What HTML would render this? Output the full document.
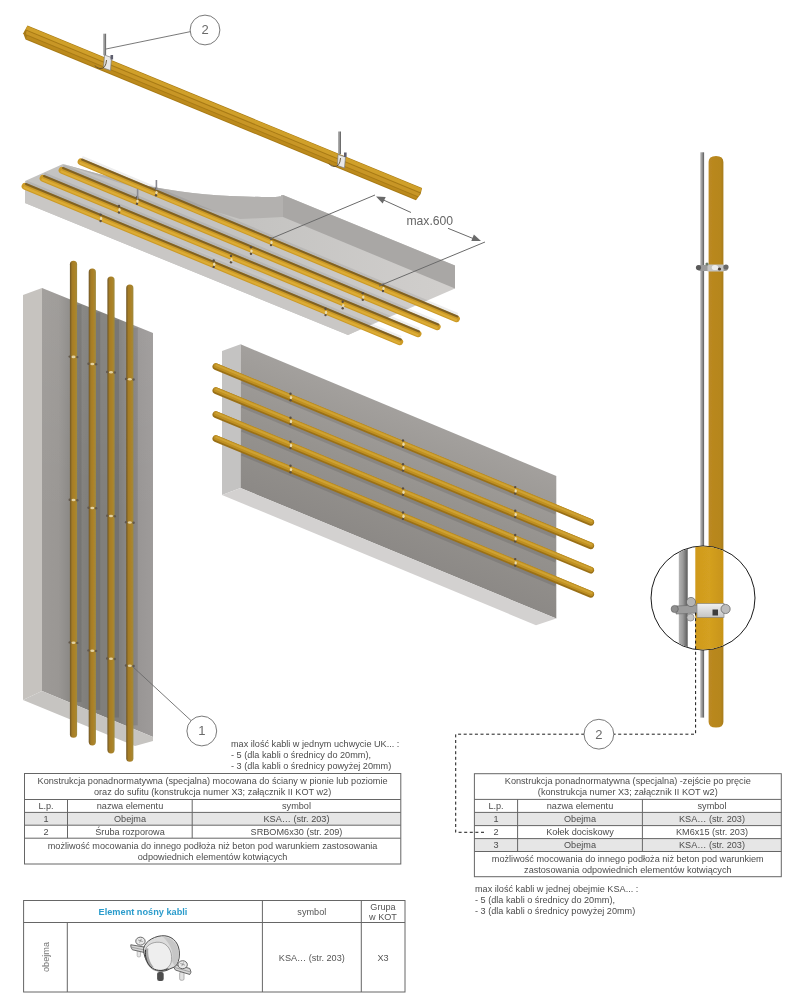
<!DOCTYPE html>
<html><head><meta charset="utf-8">
<style>
html,body{margin:0;padding:0;background:#fff;}
body{width:802px;height:998px;overflow:hidden;position:relative;font-family:"Liberation Sans",sans-serif;}
svg{position:absolute;left:0;top:0;}
text{font-family:"Liberation Sans",sans-serif;}
</style></head><body>
<svg width="802" height="998" viewBox="0 0 802 998">
<defs>
  <filter id="soft" x="0" y="0" width="802" height="998" filterUnits="userSpaceOnUse"><feGaussianBlur stdDeviation="0.28"/></filter>
  <linearGradient id="pipeV" x1="0" x2="1" y1="0" y2="0">
    <stop offset="0" stop-color="#6e5626"/><stop offset="0.3" stop-color="#a47c26"/><stop offset="0.65" stop-color="#ac8228"/><stop offset="1" stop-color="#a08a3c"/>
  </linearGradient>
  <linearGradient id="pipeR" x1="0" x2="1" y1="0" y2="0">
    <stop offset="0" stop-color="#bc8a26"/><stop offset="0.15" stop-color="#ba8820"/><stop offset="0.8" stop-color="#b6861a"/><stop offset="1" stop-color="#a87c1e"/>
  </linearGradient>
  <linearGradient id="pipeM" x1="0" x2="1" y1="0" y2="0">
    <stop offset="0" stop-color="#d09a1e"/><stop offset="0.5" stop-color="#d4a020"/><stop offset="1" stop-color="#c89418"/>
  </linearGradient>
  <linearGradient id="bandG" x1="0" x2="0" y1="0" y2="1">
    <stop offset="0" stop-color="#f0f0f0"/><stop offset="1" stop-color="#c4c4c4"/>
  </linearGradient>
  <linearGradient id="rodG" x1="0" x2="1" y1="0" y2="0">
    <stop offset="0" stop-color="#b4b4b4"/><stop offset="0.45" stop-color="#9a9a9a"/><stop offset="1" stop-color="#5a5a5a"/>
  </linearGradient>
  <linearGradient id="midFace" gradientUnits="userSpaceOnUse" x1="0" y1="344.3" x2="0" y2="488" gradientTransform="translate(240.6,0) skewY(22.64) translate(-240.6,0)">
    <stop offset="0" stop-color="#a3a09d"/><stop offset="0.5" stop-color="#96938f"/><stop offset="1" stop-color="#8c8986"/>
  </linearGradient>
  <linearGradient id="leftFront" x1="0" x2="1" y1="0" y2="0">
    <stop offset="0" stop-color="#9d9a97"/><stop offset="0.15" stop-color="#9a9794"/><stop offset="0.26" stop-color="#8a8885"/><stop offset="0.4" stop-color="#807f7c"/><stop offset="0.7" stop-color="#807f7c"/><stop offset="0.85" stop-color="#989594"/><stop offset="1" stop-color="#9e9b9a"/>
  </linearGradient>
  <linearGradient id="lwTop" gradientUnits="userSpaceOnUse" x1="0" y1="288" x2="0" y2="520">
    <stop offset="0" stop-color="#fff" stop-opacity="0.06"/><stop offset="1" stop-color="#fff" stop-opacity="0"/>
  </linearGradient>
  <linearGradient id="slabG" gradientUnits="userSpaceOnUse" x1="60" y1="0" x2="440" y2="0">
    <stop offset="0" stop-color="#c4c3c1"/><stop offset="0.5" stop-color="#c4c3c1"/><stop offset="1" stop-color="#d0cecc"/>
  </linearGradient>
  <linearGradient id="slabLight" x1="0" x2="1" y1="0" y2="0">
    <stop offset="0" stop-color="#d6d6d6"/><stop offset="1" stop-color="#d8d8d8"/>
  </linearGradient>
</defs>

<g filter="url(#soft)">
<path d="M63,164 C110,177 160,193 230,196 S275,195 283,195 L455,265.5 L455,288.5 L348,335 L25,203 L25,181 Z" fill="url(#slabG)"/>
<path d="M63,164 C110,177 160,193 230,196 S275,195 283,195 L283,217 L240,219 L120,183 Z" fill="#b3b1af"/>
<path d="M283,195 L455,265.5 L455,288.5 L283,217 Z" fill="#a9a7a5"/>
<path d="M25,181 L25,203 L348,335 L380,320 L30,186 Z" fill="#c9c7c5"/>
<line x1="82.0" y1="157.8" x2="457.5" y2="314.8" stroke="#000" stroke-opacity="0.07" stroke-width="4"/>
<line x1="81.0" y1="161.8" x2="456.5" y2="318.8" stroke="#cc9a26" stroke-width="6.8" stroke-linecap="round" stroke-opacity="1"/><line x1="80.5" y1="162.9" x2="456.0" y2="319.9" stroke="#dcac36" stroke-width="2.2" stroke-linecap="round" stroke-opacity="1"/><line x1="82.0" y1="159.5" x2="457.5" y2="316.5" stroke="#6e5422" stroke-width="2.0" stroke-linecap="round" stroke-opacity="0.8"/>
<line x1="63.0" y1="166.3" x2="438.3" y2="322.8" stroke="#000" stroke-opacity="0.07" stroke-width="4"/>
<line x1="62.0" y1="170.3" x2="437.3" y2="326.8" stroke="#cc9a26" stroke-width="6.8" stroke-linecap="round" stroke-opacity="1"/><line x1="61.5" y1="171.4" x2="436.8" y2="327.9" stroke="#dcac36" stroke-width="2.2" stroke-linecap="round" stroke-opacity="1"/><line x1="63.0" y1="168.0" x2="438.3" y2="324.5" stroke="#6e5422" stroke-width="2.0" stroke-linecap="round" stroke-opacity="0.8"/>
<line x1="44.0" y1="174.3" x2="419.1" y2="329.8" stroke="#000" stroke-opacity="0.07" stroke-width="4"/>
<line x1="43.0" y1="178.3" x2="418.1" y2="333.8" stroke="#cc9a26" stroke-width="6.8" stroke-linecap="round" stroke-opacity="1"/><line x1="42.5" y1="179.4" x2="417.6" y2="334.9" stroke="#dcac36" stroke-width="2.2" stroke-linecap="round" stroke-opacity="1"/><line x1="44.0" y1="176.0" x2="419.1" y2="331.5" stroke="#6e5422" stroke-width="2.0" stroke-linecap="round" stroke-opacity="0.8"/>
<line x1="26.0" y1="182.3" x2="400.8" y2="337.8" stroke="#000" stroke-opacity="0.07" stroke-width="4"/>
<line x1="25.0" y1="186.3" x2="399.8" y2="341.8" stroke="#cc9a26" stroke-width="6.8" stroke-linecap="round" stroke-opacity="1"/><line x1="24.5" y1="187.4" x2="399.3" y2="342.9" stroke="#dcac36" stroke-width="2.2" stroke-linecap="round" stroke-opacity="1"/><line x1="26.0" y1="184.0" x2="400.8" y2="339.5" stroke="#6e5422" stroke-width="2.0" stroke-linecap="round" stroke-opacity="0.8"/>
<circle cx="156.0" cy="188.8" r="1.2" fill="#5a4e40"/><circle cx="156.0" cy="195.2" r="1.2" fill="#5a4e40"/><ellipse cx="156.5" cy="192.6" rx="1.2" ry="1.7" fill="#e8dab0"/>
<circle cx="137.0" cy="197.3" r="1.2" fill="#5a4e40"/><circle cx="137.0" cy="203.7" r="1.2" fill="#5a4e40"/><ellipse cx="137.5" cy="201.1" rx="1.2" ry="1.7" fill="#e8dab0"/>
<circle cx="119.0" cy="206.0" r="1.2" fill="#5a4e40"/><circle cx="119.0" cy="212.4" r="1.2" fill="#5a4e40"/><ellipse cx="119.5" cy="209.8" rx="1.2" ry="1.7" fill="#e8dab0"/>
<circle cx="100.6" cy="214.6" r="1.2" fill="#5a4e40"/><circle cx="100.6" cy="221.0" r="1.2" fill="#5a4e40"/><ellipse cx="101.1" cy="218.4" rx="1.2" ry="1.7" fill="#e8dab0"/>
<circle cx="271.0" cy="238.7" r="1.2" fill="#5a4e40"/><circle cx="271.0" cy="245.1" r="1.2" fill="#5a4e40"/><ellipse cx="271.5" cy="242.5" rx="1.2" ry="1.7" fill="#e8dab0"/>
<circle cx="251.0" cy="247.3" r="1.2" fill="#5a4e40"/><circle cx="251.0" cy="253.7" r="1.2" fill="#5a4e40"/><ellipse cx="251.5" cy="251.1" rx="1.2" ry="1.7" fill="#e8dab0"/>
<circle cx="231.0" cy="255.9" r="1.2" fill="#5a4e40"/><circle cx="231.0" cy="262.3" r="1.2" fill="#5a4e40"/><ellipse cx="231.5" cy="259.7" rx="1.2" ry="1.7" fill="#e8dab0"/>
<circle cx="213.7" cy="260.5" r="1.2" fill="#5a4e40"/><circle cx="213.7" cy="266.9" r="1.2" fill="#5a4e40"/><ellipse cx="214.2" cy="264.3" rx="1.2" ry="1.7" fill="#e8dab0"/>
<circle cx="383.0" cy="284.6" r="1.2" fill="#5a4e40"/><circle cx="383.0" cy="291.0" r="1.2" fill="#5a4e40"/><ellipse cx="383.5" cy="288.4" rx="1.2" ry="1.7" fill="#e8dab0"/>
<circle cx="362.8" cy="293.3" r="1.2" fill="#5a4e40"/><circle cx="362.8" cy="299.7" r="1.2" fill="#5a4e40"/><ellipse cx="363.3" cy="297.1" rx="1.2" ry="1.7" fill="#e8dab0"/>
<circle cx="342.7" cy="301.8" r="1.2" fill="#5a4e40"/><circle cx="342.7" cy="308.2" r="1.2" fill="#5a4e40"/><ellipse cx="343.2" cy="305.6" rx="1.2" ry="1.7" fill="#e8dab0"/>
<circle cx="325.5" cy="308.7" r="1.2" fill="#5a4e40"/><circle cx="325.5" cy="315.1" r="1.2" fill="#5a4e40"/><ellipse cx="326.0" cy="312.5" rx="1.2" ry="1.7" fill="#e8dab0"/>
<rect x="155.6" y="180" width="1.6" height="10" fill="#8a8a92"/>
<rect x="136.8" y="189" width="1.6" height="10" fill="#8a8a92"/>
<g transform="translate(27.5,25.5) rotate(22.39)">
<path d="M0,0 L426.7,0 L427.7,6 L425.7,13.6 L3.5,13.6 L-1,8.8 Z" fill="#a87a14"/>
<path d="M0,0.6 L426.7,0.6 L426.7,4.6 L0,4.2 Z" fill="#d0a02c"/>
<path d="M1,5.2 L426.7,5.6 L426.7,9.2 L2,8.6 Z" fill="#c89626"/>
<path d="M3.5,9.6 L425.7,10 L425.7,12.6 L3.5,12.6 Z" fill="#bc8a1e"/>
</g>
<rect x="103.1" y="33.7" width="3" height="21.5" fill="url(#rodG)"/>
<rect x="338" y="131.5" width="3" height="22.5" fill="url(#rodG)"/>
<g fill="#e9e9e9" stroke="#7a7a7a" stroke-width="0.7"><path d="M104.5,55 L111.5,57.5 L110.5,70.5 L103.5,68 Z"/><path d="M338,154.5 L345.5,157 L344.5,168 L337.5,165.5 Z"/></g>
<g fill="#5e5e6e"><rect x="110.5" y="55" width="2.6" height="4.5"/><rect x="344" y="152.5" width="2.6" height="4.5"/></g>
<path d="M106.5,60 Q106,69 100,68.5 Q96,68 95,65.5" fill="none" stroke="#5a4a2a" stroke-width="0.9"/>
<path d="M340.5,158 Q340,167 334,166.5 Q330,166 329,163.5" fill="none" stroke="#5a4a2a" stroke-width="0.9"/>
<line x1="106" y1="49" x2="191" y2="31.5" stroke="#6a6a6a" stroke-width="0.9"/>
<circle cx="205" cy="30" r="14.9" fill="#fff" stroke="#6a6a6a" stroke-width="0.9"/>
<text x="205" y="34.3" font-size="13" fill="#6a6a6a" text-anchor="middle">2</text>
<g stroke="#6a6a6a" stroke-width="1" fill="none"><line x1="375" y1="195" x2="270" y2="239"/><line x1="485" y1="242" x2="379" y2="286"/><line x1="378" y1="197.5" x2="411" y2="212.5"/><line x1="448" y1="228.3" x2="478" y2="240.5"/></g>
<path d="M376.0,196.5 L385.7,197.0 L382.7,203.5 Z" fill="#6a6a6a"/>
<path d="M481.0,241.0 L471.3,241.1 L473.9,234.4 Z" fill="#6a6a6a"/>
<text x="406.4" y="225" font-size="12.2" fill="#666">max.600</text>
<path d="M23,295 L42,288 L42,691 L23,700 Z" fill="#c6c3bf"/>
<path d="M42,288 L153,333 L153,737 L42,691 Z" fill="url(#leftFront)"/>
<path d="M23,700 L42,691 L153,737 L153,741 L135,746 Z" fill="#c6c4c1"/>
<path d="M42,288 L153,333 L153,737 L42,691 Z" fill="url(#lwTop)"/>
<rect x="76.5" y="304.8" width="5" height="397.3" fill="#000" opacity="0.10"/>
<rect x="69.9" y="260.7" width="7.2" height="477.1" rx="3.6" fill="url(#pipeV)"/>
<rect x="95.3" y="312.4" width="5" height="397.5" fill="#000" opacity="0.10"/>
<rect x="88.7" y="268.5" width="7.2" height="476.9" rx="3.6" fill="url(#pipeV)"/>
<rect x="114.0" y="319.9" width="5" height="397.6" fill="#000" opacity="0.10"/>
<rect x="107.4" y="276.5" width="7.2" height="476.9" rx="3.6" fill="url(#pipeV)"/>
<rect x="132.8" y="327.6" width="5" height="397.8" fill="#000" opacity="0.10"/>
<rect x="126.2" y="284.4" width="7.2" height="477.4" rx="3.6" fill="url(#pipeV)"/>
<circle cx="69.7" cy="356.6" r="1.2" fill="#62584c"/><circle cx="77.3" cy="357.1" r="1.2" fill="#62584c"/><ellipse cx="73.5" cy="356.9" rx="2" ry="1.3" fill="#e2d2a2"/>
<circle cx="88.5" cy="363.7" r="1.2" fill="#62584c"/><circle cx="96.1" cy="364.2" r="1.2" fill="#62584c"/><ellipse cx="92.3" cy="364.0" rx="2" ry="1.3" fill="#e2d2a2"/>
<circle cx="107.2" cy="372.0" r="1.2" fill="#62584c"/><circle cx="114.8" cy="372.5" r="1.2" fill="#62584c"/><ellipse cx="111.0" cy="372.3" rx="2" ry="1.3" fill="#e2d2a2"/>
<circle cx="126.0" cy="379.0" r="1.2" fill="#62584c"/><circle cx="133.6" cy="379.5" r="1.2" fill="#62584c"/><ellipse cx="129.8" cy="379.3" rx="2" ry="1.3" fill="#e2d2a2"/>
<circle cx="69.7" cy="499.7" r="1.2" fill="#62584c"/><circle cx="77.3" cy="500.2" r="1.2" fill="#62584c"/><ellipse cx="73.5" cy="500.0" rx="2" ry="1.3" fill="#e2d2a2"/>
<circle cx="88.5" cy="507.7" r="1.2" fill="#62584c"/><circle cx="96.1" cy="508.2" r="1.2" fill="#62584c"/><ellipse cx="92.3" cy="508.0" rx="2" ry="1.3" fill="#e2d2a2"/>
<circle cx="107.2" cy="515.7" r="1.2" fill="#62584c"/><circle cx="114.8" cy="516.2" r="1.2" fill="#62584c"/><ellipse cx="111.0" cy="516.0" rx="2" ry="1.3" fill="#e2d2a2"/>
<circle cx="126.0" cy="522.2" r="1.2" fill="#62584c"/><circle cx="133.6" cy="522.7" r="1.2" fill="#62584c"/><ellipse cx="129.8" cy="522.5" rx="2" ry="1.3" fill="#e2d2a2"/>
<circle cx="69.7" cy="642.4" r="1.2" fill="#62584c"/><circle cx="77.3" cy="642.9" r="1.2" fill="#62584c"/><ellipse cx="73.5" cy="642.7" rx="2" ry="1.3" fill="#e2d2a2"/>
<circle cx="88.5" cy="650.4" r="1.2" fill="#62584c"/><circle cx="96.1" cy="650.9" r="1.2" fill="#62584c"/><ellipse cx="92.3" cy="650.7" rx="2" ry="1.3" fill="#e2d2a2"/>
<circle cx="107.2" cy="658.5" r="1.2" fill="#62584c"/><circle cx="114.8" cy="659.0" r="1.2" fill="#62584c"/><ellipse cx="111.0" cy="658.8" rx="2" ry="1.3" fill="#e2d2a2"/>
<circle cx="126.0" cy="665.5" r="1.2" fill="#62584c"/><circle cx="133.6" cy="666.0" r="1.2" fill="#62584c"/><ellipse cx="129.8" cy="665.8" rx="2" ry="1.3" fill="#e2d2a2"/>
<line x1="132" y1="666" x2="191.5" y2="721" stroke="#6a6a6a" stroke-width="0.9"/>
<circle cx="201.8" cy="731" r="14.9" fill="#fff" stroke="#6a6a6a" stroke-width="0.9"/>
<text x="201.8" y="735.3" font-size="13" fill="#6a6a6a" text-anchor="middle">1</text>
<path d="M222,351 L240.6,344.3 L240.6,488 L222,495 Z" fill="#c4c3c2"/>
<path d="M240.6,344.3 L556.3,476 L556.3,618.6 L240.6,488 Z" fill="url(#midFace)"/>
<path d="M222,495 L240.6,488 L556.3,618.6 L536,625.2 Z" fill="#d3d1d0"/>
<line x1="242" y1="381.3" x2="556" y2="512.3" stroke="#000" stroke-opacity="0.10" stroke-width="5"/>
<line x1="242" y1="405.3" x2="556" y2="536.3" stroke="#000" stroke-opacity="0.10" stroke-width="5"/>
<line x1="242" y1="429.3" x2="556" y2="560.3" stroke="#000" stroke-opacity="0.10" stroke-width="5"/>
<line x1="242" y1="453.3" x2="556" y2="584.3" stroke="#000" stroke-opacity="0.10" stroke-width="5"/>
<line x1="215.8" y1="366.6" x2="590.8" y2="522.4" stroke="#9a7018" stroke-width="6.6" stroke-linecap="round"/><line x1="216.1" y1="365.7" x2="591.1" y2="521.5" stroke="#bf9022" stroke-width="5.0" stroke-linecap="round"/><line x1="216.3" y1="365.2" x2="591.3" y2="521.0" stroke="#cfa232" stroke-width="2.0" stroke-linecap="round"/>
<line x1="215.8" y1="390.6" x2="590.8" y2="545.9" stroke="#9a7018" stroke-width="6.6" stroke-linecap="round"/><line x1="216.1" y1="389.7" x2="591.1" y2="545.0" stroke="#bf9022" stroke-width="5.0" stroke-linecap="round"/><line x1="216.3" y1="389.2" x2="591.3" y2="544.5" stroke="#cfa232" stroke-width="2.0" stroke-linecap="round"/>
<line x1="215.8" y1="414.6" x2="590.8" y2="570.3" stroke="#9a7018" stroke-width="6.6" stroke-linecap="round"/><line x1="216.1" y1="413.7" x2="591.1" y2="569.4" stroke="#bf9022" stroke-width="5.0" stroke-linecap="round"/><line x1="216.3" y1="413.2" x2="591.3" y2="568.9" stroke="#cfa232" stroke-width="2.0" stroke-linecap="round"/>
<line x1="215.8" y1="438.6" x2="590.8" y2="594.4" stroke="#9a7018" stroke-width="6.6" stroke-linecap="round"/><line x1="216.1" y1="437.7" x2="591.1" y2="593.5" stroke="#bf9022" stroke-width="5.0" stroke-linecap="round"/><line x1="216.3" y1="437.2" x2="591.3" y2="593.0" stroke="#cfa232" stroke-width="2.0" stroke-linecap="round"/>
<circle cx="290.5" cy="393.8" r="1.2" fill="#5a4e40"/><circle cx="290.5" cy="400.2" r="1.2" fill="#5a4e40"/><ellipse cx="291.0" cy="397.6" rx="1.2" ry="1.7" fill="#e8dab0"/>
<circle cx="290.5" cy="417.7" r="1.2" fill="#5a4e40"/><circle cx="290.5" cy="424.1" r="1.2" fill="#5a4e40"/><ellipse cx="291.0" cy="421.5" rx="1.2" ry="1.7" fill="#e8dab0"/>
<circle cx="290.5" cy="441.7" r="1.2" fill="#5a4e40"/><circle cx="290.5" cy="448.1" r="1.2" fill="#5a4e40"/><ellipse cx="291.0" cy="445.5" rx="1.2" ry="1.7" fill="#e8dab0"/>
<circle cx="290.5" cy="465.8" r="1.2" fill="#5a4e40"/><circle cx="290.5" cy="472.2" r="1.2" fill="#5a4e40"/><ellipse cx="291.0" cy="469.6" rx="1.2" ry="1.7" fill="#e8dab0"/>
<circle cx="403.0" cy="440.5" r="1.2" fill="#5a4e40"/><circle cx="403.0" cy="446.9" r="1.2" fill="#5a4e40"/><ellipse cx="403.5" cy="444.3" rx="1.2" ry="1.7" fill="#e8dab0"/>
<circle cx="403.0" cy="464.2" r="1.2" fill="#5a4e40"/><circle cx="403.0" cy="470.6" r="1.2" fill="#5a4e40"/><ellipse cx="403.5" cy="468.0" rx="1.2" ry="1.7" fill="#e8dab0"/>
<circle cx="403.0" cy="488.4" r="1.2" fill="#5a4e40"/><circle cx="403.0" cy="494.8" r="1.2" fill="#5a4e40"/><ellipse cx="403.5" cy="492.2" rx="1.2" ry="1.7" fill="#e8dab0"/>
<circle cx="403.0" cy="512.5" r="1.2" fill="#5a4e40"/><circle cx="403.0" cy="518.9" r="1.2" fill="#5a4e40"/><ellipse cx="403.5" cy="516.3" rx="1.2" ry="1.7" fill="#e8dab0"/>
<circle cx="515.2" cy="487.1" r="1.2" fill="#5a4e40"/><circle cx="515.2" cy="493.5" r="1.2" fill="#5a4e40"/><ellipse cx="515.7" cy="490.9" rx="1.2" ry="1.7" fill="#e8dab0"/>
<circle cx="515.2" cy="510.7" r="1.2" fill="#5a4e40"/><circle cx="515.2" cy="517.1" r="1.2" fill="#5a4e40"/><ellipse cx="515.7" cy="514.5" rx="1.2" ry="1.7" fill="#e8dab0"/>
<circle cx="515.2" cy="535.0" r="1.2" fill="#5a4e40"/><circle cx="515.2" cy="541.4" r="1.2" fill="#5a4e40"/><ellipse cx="515.7" cy="538.8" rx="1.2" ry="1.7" fill="#e8dab0"/>
<circle cx="515.2" cy="559.1" r="1.2" fill="#5a4e40"/><circle cx="515.2" cy="565.5" r="1.2" fill="#5a4e40"/><ellipse cx="515.7" cy="562.9" rx="1.2" ry="1.7" fill="#e8dab0"/>
<rect x="700.3" y="152.3" width="3.8" height="565.3" fill="url(#rodG)"/>
<path d="M708.6,162 Q708.6,155.9 716,155.9 Q723.4,155.9 723.4,162 L723.4,722 Q723.4,727.6 716,727.6 Q708.6,727.6 708.6,722 Z" fill="url(#pipeR)"/>
<g><rect x="697" y="265" width="31" height="6" rx="3" fill="#9a9a9a"/><rect x="707.5" y="264.5" width="16" height="7" fill="#c4c4c2"/><ellipse cx="715" cy="267.5" rx="3.2" ry="2.6" fill="#ececec"/><circle cx="719.5" cy="269" r="1.6" fill="#4a3e36"/><circle cx="698.5" cy="267.5" r="2.6" fill="#5a5a5a"/><circle cx="726" cy="267" r="2.6" fill="#6a6a6a"/><circle cx="707" cy="264" r="1.6" fill="#6a7a6a"/></g>
<circle cx="703" cy="598" r="52" fill="#fff" stroke="#1a1a1a" stroke-width="1"/>
<clipPath id="mag"><circle cx="703" cy="598" r="51.5"/></clipPath>
<g clip-path="url(#mag)">
  <rect x="678.8" y="540" width="8.9" height="120" fill="url(#rodG)"/>
  <rect x="695.3" y="540" width="28.1" height="120" fill="url(#pipeM)"/>
  <path d="M676,606 L698,605 L698,613 L676,614 Z" fill="#9c9c9c" stroke="#6a6a6a" stroke-width="0.6"/>
  <rect x="697" y="603.5" width="27" height="14" fill="url(#bandG)" stroke="#7a7a7a" stroke-width="0.6"/>
  <rect x="712.5" y="609.5" width="5.5" height="6" fill="#3e3e3e"/>
  <circle cx="674.7" cy="609" r="3.6" fill="#8e8e8e" stroke="#5a5a5a" stroke-width="0.6"/>
  <circle cx="691" cy="602" r="4.6" fill="#b4b4b4" stroke="#5e5e5e" stroke-width="0.7"/>
  <circle cx="690.5" cy="617.5" r="3.6" fill="#c4c4c4" stroke="#6e6e6e" stroke-width="0.6"/>
  <circle cx="725.6" cy="609" r="4.6" fill="#bcbcbc" stroke="#5e5e5e" stroke-width="0.7"/>
</g>
<path d="M695.6,612.6 L695.6,734.2 L613.5,734.2 M584.3,734.2 L455.7,734.2 L455.7,832.3 L484,832.3" fill="none" stroke="#1a1a1a" stroke-width="1" stroke-dasharray="3,2.6"/>
<circle cx="598.9" cy="734.2" r="14.9" fill="#fff" stroke="#6a6a6a" stroke-width="0.9"/>
<text x="598.9" y="738.5" font-size="13" fill="#6a6a6a" text-anchor="middle">2</text>
</g><g filter="url(#soft)">
<!-- TEXT: max ilosc -->
<g font-size="9.15" fill="#4d4d4d">
  <text x="231" y="747">max ilość kabli w jednym uchwycie UK... :</text>
  <text x="231" y="758">- 5 (dla kabli o średnicy do 20mm),</text>
  <text x="231" y="769">- 3 (dla kabli o średnicy powyżej 20mm)</text>
</g>
<!-- LEFT TABLE -->
<g>
  <rect x="24.5" y="812.4" width="376.3" height="12.8" fill="#e6e6e6"/>
  <g stroke="#666" stroke-width="1" fill="none">
    <rect x="24.5" y="773.5" width="376.3" height="90.5"/>
    <line x1="24.5" y1="799.5" x2="400.8" y2="799.5"/>
    <line x1="24.5" y1="812.4" x2="400.8" y2="812.4"/>
    <line x1="24.5" y1="825.2" x2="400.8" y2="825.2"/>
    <line x1="24.5" y1="838.2" x2="400.8" y2="838.2"/>
    <line x1="67.5" y1="799.5" x2="67.5" y2="838.2"/>
    <line x1="192.2" y1="799.5" x2="192.2" y2="838.2"/>
  </g>
  <g font-size="9.15" fill="#4d4d4d" text-anchor="middle">
    <text x="212.6" y="784">Konstrukcja ponadnormatywna (specjalna) mocowana do ściany w pionie lub poziomie</text>
    <text x="212.6" y="795">oraz do sufitu (konstrukcja numer X3; załącznik II KOT w2)</text>
    <text x="46" y="809">L.p.</text>
    <text x="130" y="809">nazwa elementu</text>
    <text x="296.5" y="809">symbol</text>
    <text x="46" y="822">1</text>
    <text x="130" y="822">Obejma</text>
    <text x="296.5" y="822">KSA… (str. 203)</text>
    <text x="46" y="835">2</text>
    <text x="130" y="835">Śruba rozporowa</text>
    <text x="296.5" y="835">SRBOM6x30 (str. 209)</text>
    <text x="212.6" y="849">możliwość mocowania do innego podłoża niż beton pod warunkiem zastosowania</text>
    <text x="212.6" y="860">odpowiednich elementów kotwiących</text>
  </g>
</g>
<!-- RIGHT TABLE -->
<g>
  <rect x="474.4" y="812.4" width="306.9" height="13.2" fill="#e6e6e6"/>
  <rect x="474.4" y="838.6" width="306.9" height="12.9" fill="#e6e6e6"/>
  <g stroke="#666" stroke-width="1" fill="none">
    <rect x="474.4" y="773.7" width="306.9" height="103"/>
    <line x1="474.4" y1="799.4" x2="781.3" y2="799.4"/>
    <line x1="474.4" y1="812.4" x2="781.3" y2="812.4"/>
    <line x1="474.4" y1="825.6" x2="781.3" y2="825.6"/>
    <line x1="474.4" y1="838.6" x2="781.3" y2="838.6"/>
    <line x1="474.4" y1="851.5" x2="781.3" y2="851.5"/>
    <line x1="517.6" y1="799.4" x2="517.6" y2="851.5"/>
    <line x1="642.4" y1="799.4" x2="642.4" y2="851.5"/>
  </g>
  <g font-size="9.15" fill="#4d4d4d" text-anchor="middle">
    <text x="627.8" y="784">Konstrukcja ponadnormatywna (specjalna) -zejście po pręcie</text>
    <text x="627.8" y="795">(konstrukcja numer X3; załącznik II KOT w2)</text>
    <text x="496" y="809">L.p.</text>
    <text x="580" y="809">nazwa elementu</text>
    <text x="712" y="809">symbol</text>
    <text x="496" y="822">1</text>
    <text x="580" y="822">Obejma</text>
    <text x="712" y="822">KSA… (str. 203)</text>
    <text x="496" y="835">2</text>
    <text x="580" y="835">Kołek dociskowy</text>
    <text x="712" y="835">KM6x15 (str. 203)</text>
    <text x="496" y="848">3</text>
    <text x="580" y="848">Obejma</text>
    <text x="712" y="848">KSA… (str. 203)</text>
    <text x="627.8" y="862">możliwość mocowania do innego podłoża niż beton pod warunkiem</text>
    <text x="627.8" y="873">zastosowania odpowiednich elementów kotwiących</text>
  </g>
  <g font-size="9.15" fill="#4d4d4d">
    <text x="475" y="892">max ilość kabli w jednej obejmie KSA... :</text>
    <text x="475" y="903">- 5 (dla kabli o średnicy do 20mm),</text>
    <text x="475" y="914">- 3 (dla kabli o średnicy powyżej 20mm)</text>
  </g>
</g>
<!-- BOTTOM TABLE -->
<g>
  <g stroke="#666" stroke-width="1" fill="none">
    <rect x="23.6" y="900.5" width="381.4" height="91.5"/>
    <line x1="23.6" y1="922.5" x2="405" y2="922.5"/>
    <line x1="67.3" y1="922.5" x2="67.3" y2="992"/>
    <line x1="262.4" y1="900.5" x2="262.4" y2="992"/>
    <line x1="361.3" y1="900.5" x2="361.3" y2="992"/>
  </g>
  <text x="143" y="915" font-size="9.2" font-weight="bold" fill="#2b9ccc" text-anchor="middle">Element nośny kabli</text>
  <g font-size="9.15" fill="#555" text-anchor="middle">
    <text x="311.8" y="915">symbol</text>
    <text x="383" y="910">Grupa</text>
    <text x="383" y="920">w KOT</text>
    <text x="311.8" y="960.5">KSA… (str. 203)</text>
    <text x="383" y="960.5">X3</text>
    <text transform="translate(49,957) rotate(-90)" fill="#777">obejma</text>
  </g>
  <!-- clamp icon -->
  <g id="clampicon" transform="translate(120,925) scale(0.09975)">
    <!-- studs -->
    <rect x="372" y="470" width="66" height="92" rx="22" fill="#4e4e4e"/>
    <rect x="598" y="470" width="44" height="84" rx="14" fill="#e2e2e2" stroke="#8a8a8a" stroke-width="6"/>
    <rect x="172" y="250" width="34" height="70" rx="12" fill="#e6e6e6" stroke="#9a9a9a" stroke-width="6"/>
    <!-- left flange -->
    <path d="M108,198 L250,222 L268,262 L262,280 L124,248 L110,222 Z" fill="#d6d6d6" stroke="#5a5a5a" stroke-width="9"/>
    <path d="M112,222 L262,254" stroke="#8a8a8a" stroke-width="7"/>
    <!-- right flange -->
    <path d="M540,392 L700,436 L712,472 L700,496 L556,452 L540,426 Z" fill="#d6d6d6" stroke="#5a5a5a" stroke-width="9"/>
    <path d="M548,426 L704,470" stroke="#8a8a8a" stroke-width="7"/>
    <!-- band outer -->
    <path d="M236,236 C250,160 360,100 450,108 C540,118 596,190 596,290 C596,350 578,392 548,420 L500,440 C440,480 340,470 290,400 C256,350 236,300 236,236 Z" fill="#dcdcdc" stroke="#4a4a4a" stroke-width="10"/>
    <!-- outer surface shading (right side) -->
    <path d="M430,118 C520,120 586,190 588,290 C590,350 572,390 548,412 L520,360 C540,300 520,200 430,118 Z" fill="#c6c6c6"/>
    <!-- inner surface / hole -->
    <path d="M256,246 C276,188 352,160 422,178 C500,204 532,296 512,376 C494,438 424,468 362,458 C302,444 262,384 256,320 Z" fill="#eeeeee" stroke="#777" stroke-width="6"/>
    <path d="M258,236 C244,300 262,380 312,432 L338,424 C296,376 276,304 284,236 Z" fill="#a6a6a6"/>
    <path d="M256,250 C248,310 266,380 308,420 C348,458 420,468 484,438" fill="none" stroke="#333" stroke-width="10"/>
    <!-- screw heads -->
    <ellipse cx="205" cy="162" rx="47" ry="40" fill="#e8e8e8" stroke="#5a5a5a" stroke-width="9"/>
    <path d="M182,150 L228,166 M214,140 L196,176" stroke="#8a8a8a" stroke-width="8"/>
    <ellipse cx="628" cy="398" rx="47" ry="40" fill="#e8e8e8" stroke="#5a5a5a" stroke-width="9"/>
    <path d="M605,386 L651,402 M637,376 L619,412" stroke="#8a8a8a" stroke-width="8"/>
  </g>
</g>
</g>
</svg>
</body></html>
